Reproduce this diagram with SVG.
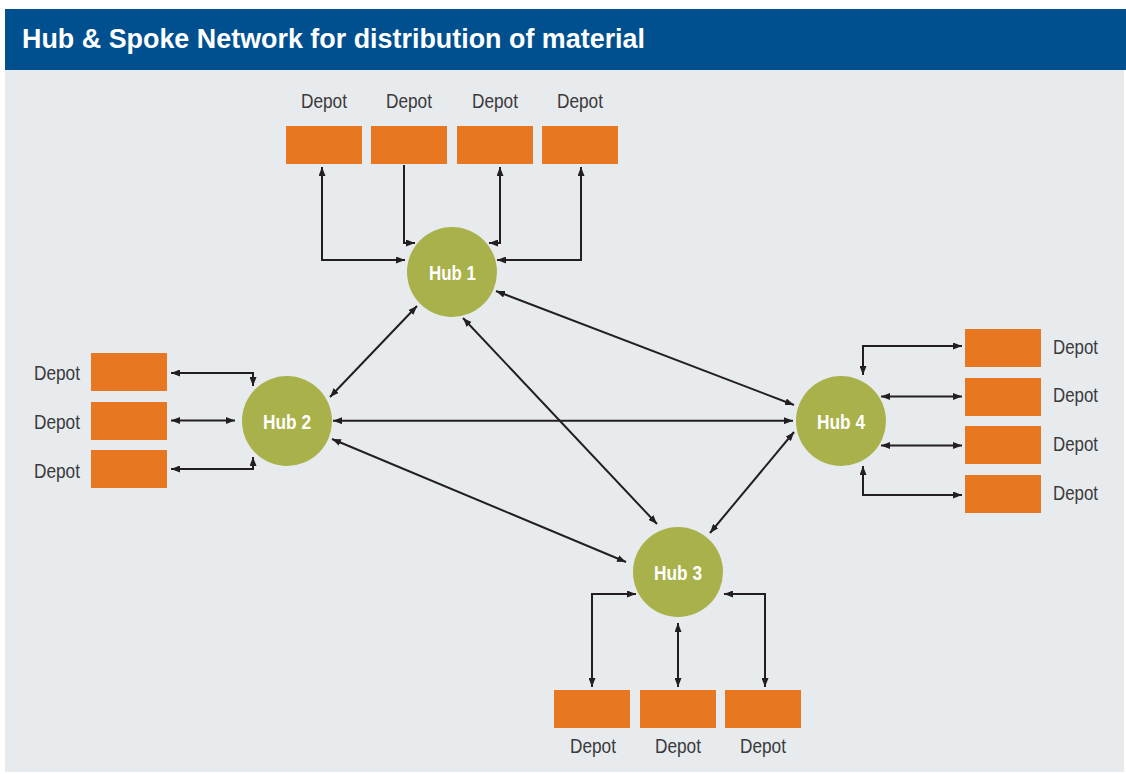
<svg xmlns="http://www.w3.org/2000/svg" width="1126" height="774" viewBox="0 0 1126 774">
  <defs>
    <marker id="arrow" viewBox="0 0 9 7" refX="9" refY="3.5" markerWidth="9" markerHeight="7" markerUnits="userSpaceOnUse" orient="auto-start-reverse">
      <path d="M0,0 L9,3.5 L0,7 z" fill="#231f20"/>
    </marker>
    <style>
      .title { font-family: "Liberation Sans", Arial, sans-serif; font-weight: bold; font-size: 28px; fill: #ffffff; }
      .depot { fill: #e87722; }
      .hub { fill: #a9b14a; }
      .hub-label { font-family: "Liberation Sans", Arial, sans-serif; font-weight: bold; font-size: 19.5px; fill: #ffffff; text-anchor: middle; }
      .label { font-family: "Liberation Sans", Arial, sans-serif; font-size: 19.5px; fill: #3a3a3c; }
      .mid { text-anchor: middle; }
      .link { fill: none; stroke: #231f20; stroke-width: 2; }
      .both { marker-start: url(#arrow); marker-end: url(#arrow); }
      .one { marker-end: url(#arrow); }
    </style>
  </defs>

  <!-- page -->
  <rect x="0" y="0" width="1126" height="774" fill="#ffffff"/>
  <rect x="5" y="70" width="1119" height="702" fill="#e8ebee"/>
  <rect x="5" y="9" width="1121" height="61" fill="#00508f"/>
  <text class="title" x="22" y="48" textLength="623" lengthAdjust="spacingAndGlyphs">Hub &amp; Spoke Network for distribution of material</text>

  <!-- connectors -->
  <g id="connectors">
    <!-- hub to hub -->
    <path class="link both" d="M417,306 L330,397"/>
    <path class="link both" d="M496,291 L794,405"/>
    <path class="link both" d="M463,318 L657,524"/>
    <path class="link both" d="M333,420.7 L793,420.7"/>
    <path class="link both" d="M332,439 L626,562"/>
    <path class="link both" d="M794,432 L710,533"/>
    <!-- Hub 1 depots -->
    <path class="link both" d="M322,167 V260 H405"/>
    <path class="link one" d="M404,165 V243 H415"/>
    <path class="link both" d="M500,167 V243 H489"/>
    <path class="link both" d="M581,167 V260 H497"/>
    <!-- Hub 2 depots -->
    <path class="link both" d="M171,373 H253 V386"/>
    <path class="link both" d="M171,420.5 H235"/>
    <path class="link both" d="M171,469 H253 V457"/>
    <!-- Hub 4 depots -->
    <path class="link both" d="M962,346 H863 V375"/>
    <path class="link both" d="M962,396.5 H881"/>
    <path class="link both" d="M962,445.5 H881"/>
    <path class="link both" d="M962,495 H863 V466"/>
    <!-- Hub 3 depots -->
    <path class="link both" d="M592,687 V594 H636"/>
    <path class="link both" d="M678,687 V623"/>
    <path class="link both" d="M765,687 V594 H724"/>
  </g>

  <!-- hubs -->
  <g id="hub1">
    <circle class="hub" cx="452" cy="272" r="45"/>
    <text class="hub-label" x="452.5" y="279.5" textLength="47" lengthAdjust="spacingAndGlyphs">Hub 1</text>
  </g>
  <g id="hub2">
    <circle class="hub" cx="287" cy="421" r="45"/>
    <text class="hub-label" x="287" y="428.5" textLength="48" lengthAdjust="spacingAndGlyphs">Hub 2</text>
  </g>
  <g id="hub3">
    <circle class="hub" cx="678" cy="572" r="45"/>
    <text class="hub-label" x="678" y="579.5" textLength="48" lengthAdjust="spacingAndGlyphs">Hub 3</text>
  </g>
  <g id="hub4">
    <circle class="hub" cx="841" cy="421" r="45"/>
    <text class="hub-label" x="841" y="428.5" textLength="48" lengthAdjust="spacingAndGlyphs">Hub 4</text>
  </g>

  <!-- depots around Hub 1 -->
  <g id="depot-top-1">
    <rect class="depot" x="286" y="126" width="76" height="38"/>
    <text class="label mid" x="324" y="108" textLength="46" lengthAdjust="spacingAndGlyphs">Depot</text>
  </g>
  <g id="depot-top-2">
    <rect class="depot" x="371" y="126" width="76" height="38"/>
    <text class="label mid" x="409" y="108" textLength="46" lengthAdjust="spacingAndGlyphs">Depot</text>
  </g>
  <g id="depot-top-3">
    <rect class="depot" x="457" y="126" width="76" height="38"/>
    <text class="label mid" x="495" y="108" textLength="46" lengthAdjust="spacingAndGlyphs">Depot</text>
  </g>
  <g id="depot-top-4">
    <rect class="depot" x="542" y="126" width="76" height="38"/>
    <text class="label mid" x="580" y="108" textLength="46" lengthAdjust="spacingAndGlyphs">Depot</text>
  </g>

  <!-- depots around Hub 2 -->
  <g id="depot-left-1">
    <rect class="depot" x="91" y="353" width="76" height="38"/>
    <text class="label" x="34" y="380" textLength="46" lengthAdjust="spacingAndGlyphs">Depot</text>
  </g>
  <g id="depot-left-2">
    <rect class="depot" x="91" y="402" width="76" height="38"/>
    <text class="label" x="34" y="429" textLength="46" lengthAdjust="spacingAndGlyphs">Depot</text>
  </g>
  <g id="depot-left-3">
    <rect class="depot" x="91" y="450" width="76" height="38"/>
    <text class="label" x="34" y="478" textLength="46" lengthAdjust="spacingAndGlyphs">Depot</text>
  </g>

  <!-- depots around Hub 4 -->
  <g id="depot-right-1">
    <rect class="depot" x="965" y="329" width="76" height="38"/>
    <text class="label" x="1053" y="354" textLength="45" lengthAdjust="spacingAndGlyphs">Depot</text>
  </g>
  <g id="depot-right-2">
    <rect class="depot" x="965" y="378" width="76" height="38"/>
    <text class="label" x="1053" y="402" textLength="45" lengthAdjust="spacingAndGlyphs">Depot</text>
  </g>
  <g id="depot-right-3">
    <rect class="depot" x="965" y="426" width="76" height="38"/>
    <text class="label" x="1053" y="451" textLength="45" lengthAdjust="spacingAndGlyphs">Depot</text>
  </g>
  <g id="depot-right-4">
    <rect class="depot" x="965" y="475" width="76" height="38"/>
    <text class="label" x="1053" y="500" textLength="45" lengthAdjust="spacingAndGlyphs">Depot</text>
  </g>

  <!-- depots around Hub 3 -->
  <g id="depot-bottom-1">
    <rect class="depot" x="554" y="690" width="76" height="38"/>
    <text class="label mid" x="593" y="753" textLength="46" lengthAdjust="spacingAndGlyphs">Depot</text>
  </g>
  <g id="depot-bottom-2">
    <rect class="depot" x="640" y="690" width="76" height="38"/>
    <text class="label mid" x="678" y="753" textLength="46" lengthAdjust="spacingAndGlyphs">Depot</text>
  </g>
  <g id="depot-bottom-3">
    <rect class="depot" x="725" y="690" width="76" height="38"/>
    <text class="label mid" x="763" y="753" textLength="46" lengthAdjust="spacingAndGlyphs">Depot</text>
  </g>
</svg>
